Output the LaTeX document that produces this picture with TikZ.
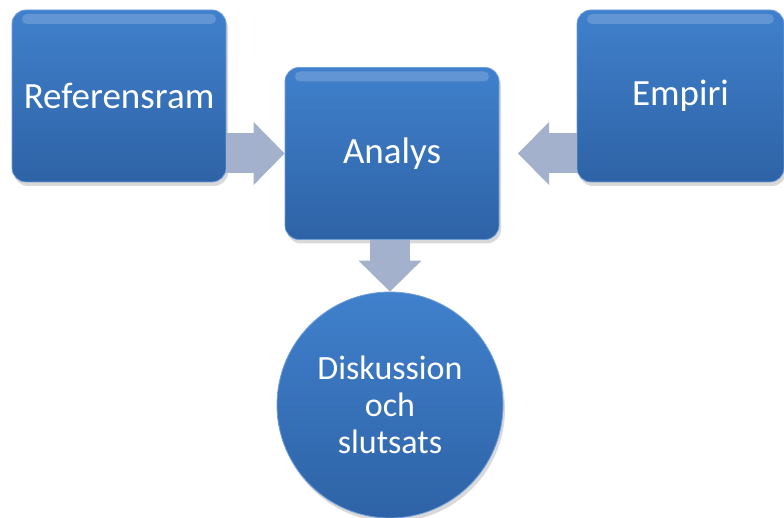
\documentclass[tikz,border=0pt]{standalone}
\usepackage{fontspec}
\setmainfont{Carlito}
\usetikzlibrary{arrows.meta,shadows}

\definecolor{boxtop}{RGB}{64,128,204}
\definecolor{boxbot}{RGB}{46,99,166}
\definecolor{boxedge}{RGB}{110,158,218}
\definecolor{arrowblue}{RGB}{163,177,205}

\tikzset{
  stepbox/.style={rectangle, rounded corners=14pt, minimum width=214pt, minimum height=172pt,
    top color=boxtop, bottom color=boxbot, draw=boxedge, line width=0.8pt,
    text=white, font=\fontsize{37}{40}\selectfont,
    drop shadow={opacity=0.3, shadow xshift=2pt, shadow yshift=-4pt},
    path picture={\fill[white, opacity=0.18, rounded corners=5pt]
      ([xshift=10pt,yshift=-4pt]path picture bounding box.north west) rectangle
      ([xshift=-10pt,yshift=-14pt]path picture bounding box.north east);}},
  endcircle/.style={circle, minimum size=226pt, align=center,
    top color=boxtop, bottom color=boxbot, draw=boxedge, line width=0.8pt,
    text=white, font=\fontsize{34}{37}\selectfont,
    drop shadow={opacity=0.3, shadow xshift=2pt, shadow yshift=-4pt}},
  flowarrow/.style={arrowblue, line width=40pt,
    -{Triangle[length=31pt, width=63pt, line width=0pt]}}
}

\begin{document}
\begin{tikzpicture}[x=1pt,y=-1pt]
\useasboundingbox (0,0) rectangle (784,518);
% boxes
\node[stepbox] (ref) at (119,96) {Referensram};
\node[stepbox] (ana) at (392,153.5) {Analys};
\node[stepbox, minimum width=207pt] (emp) at (680.5,96) {Empiri};
\node[endcircle] (disk) at (390,405) {Diskussion\\och\\slutsats};
% arrows
\coordinate (emptip) at (518,153.5);
\draw[flowarrow] (ref.east |- ana.west) -- (ana.west);
\draw[flowarrow] (emp.west |- ana.east) -- (emptip);
\draw[flowarrow] (ana.south -| disk.north) -- (disk.north);
\end{tikzpicture}
\end{document}
